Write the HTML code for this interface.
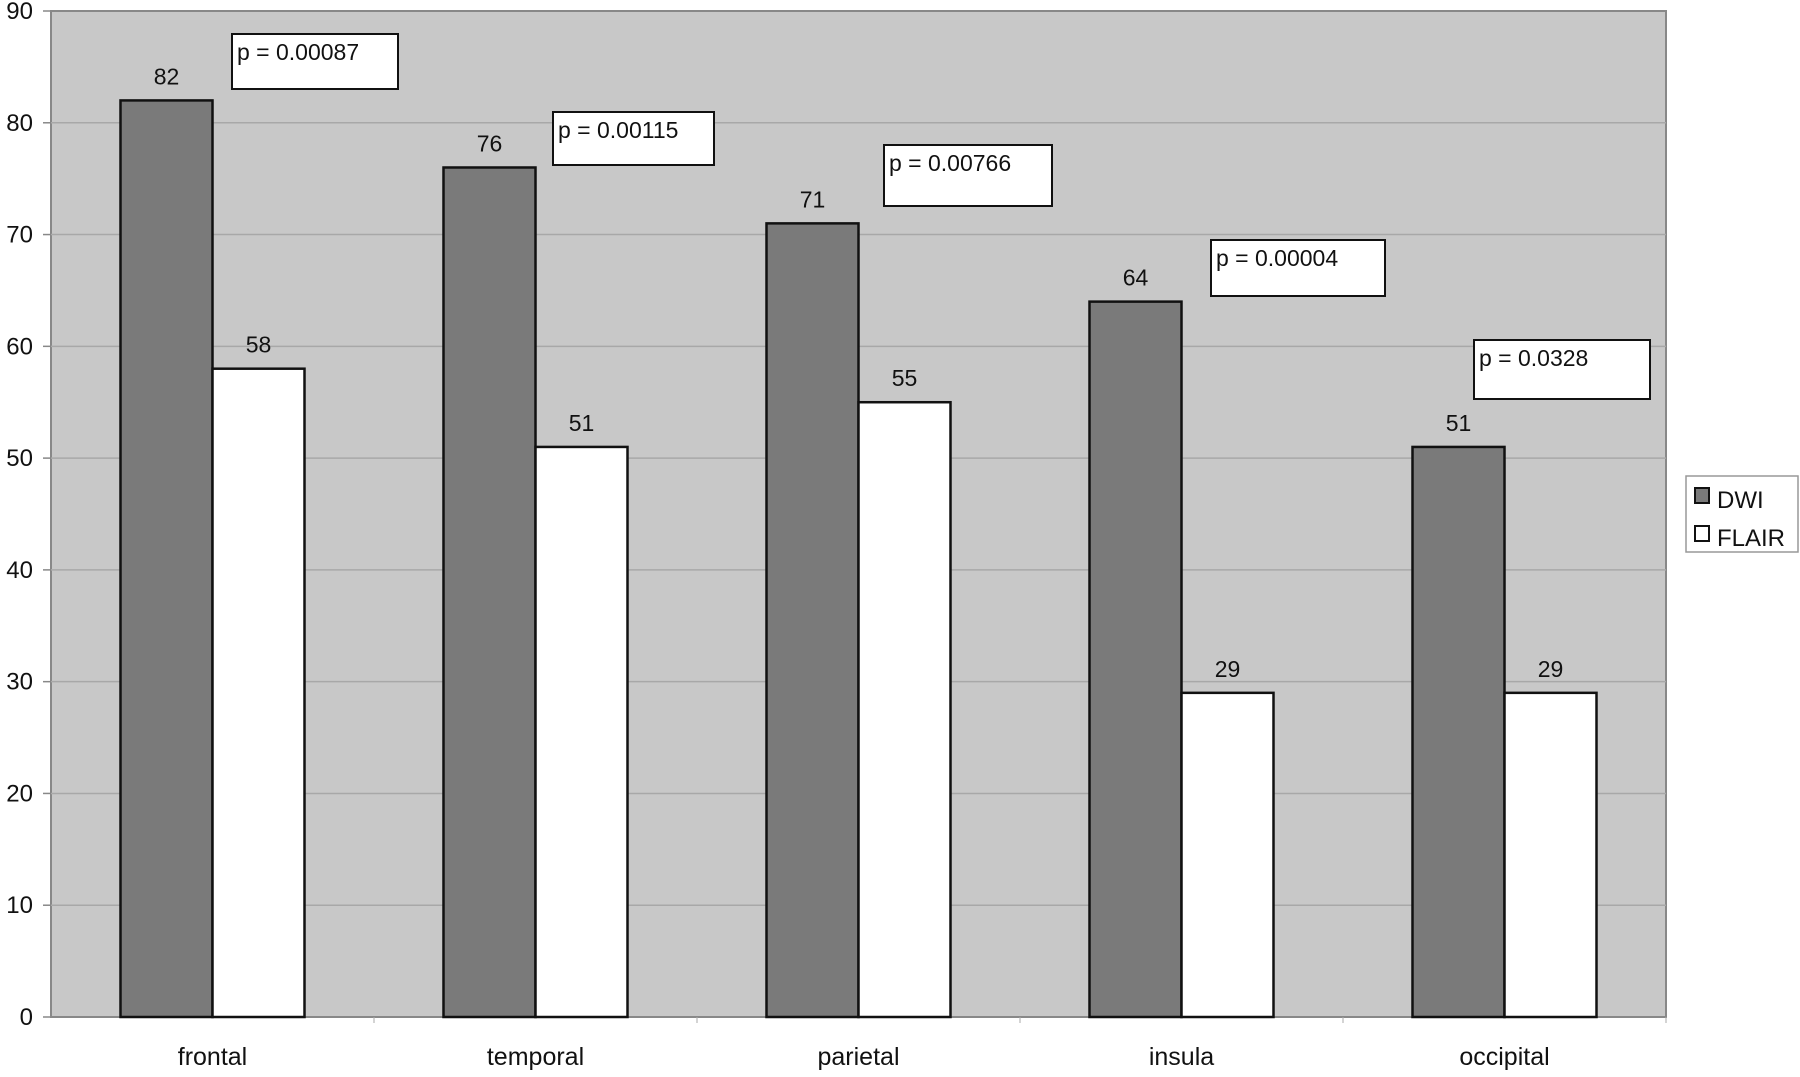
<!DOCTYPE html>
<html><head><meta charset="utf-8">
<style>
html,body{margin:0;padding:0;background:#fff;}
svg text{font-family:"Liberation Sans",Arial,sans-serif;fill:#111;}
</style></head>
<body>
<svg id="chart" width="1800" height="1072" xmlns="http://www.w3.org/2000/svg">
<rect x="51" y="11" width="1615" height="1006" fill="#c8c8c8" stroke="#888" stroke-width="2"/>
<g id="grid"></g>
<g id="bars"></g>
<g id="labels"></g>
<g id="pboxes"></g>
<g>
<rect x="1686" y="476" width="112" height="76" fill="#fff" stroke="#999" stroke-width="1.5"/>
<rect x="1695" y="488" width="14" height="15" fill="#7a7a7a" stroke="#111" stroke-width="2"/>
<text x="1717" y="508" font-size="24">DWI</text>
<rect x="1695" y="526" width="14" height="15" fill="#fff" stroke="#111" stroke-width="2"/>
<text x="1717" y="546" font-size="24">FLAIR</text>
</g>
</svg>
<script>
const categories = ["frontal","temporal","parietal","insula","occipital"];
const dwiValues = [82,76,71,64,51];
const flairValues = [58,51,55,29,29];
const yTicks = [0,10,20,30,40,50,60,70,80,90];
const pLabels = ["p = 0.00087","p = 0.00115","p = 0.00766","p = 0.00004","p = 0.0328"];

const NS="http://www.w3.org/2000/svg";
const L=51,R=1666,T=11,B=1017,YMAX=90;
const y=v=>B-(v/YMAX)*(B-T);
const gw=(R-L)/categories.length;
const bw=92;
const xDwi=i=>L+gw*i+gw/2-bw;
const xFlair=i=>L+gw*i+gw/2;
function mk(tag,attrs,parent){const e=document.createElementNS(NS,tag);for(const k in attrs)e.setAttribute(k,attrs[k]);parent.appendChild(e);return e;}
const grid=document.getElementById('grid'),bars=document.getElementById('bars'),labels=document.getElementById('labels'),pb=document.getElementById('pboxes');
yTicks.forEach(t=>{
  if(t>0&&t<YMAX){const g=mk('line',{x1:L,x2:R,y1:y(t),y2:y(t),stroke:'#a8a8a8','stroke-width':1.5},grid);
  
  }
  const tk=mk('line',{x1:L-8,x2:L,y1:y(t),y2:y(t),stroke:'#888','stroke-width':1.5},grid);
  
  
  const tx=mk('text',{x:L-18,y:y(t)+8,'font-size':24,'text-anchor':'end'},labels);
  tx.textContent=t;
  
  
});
categories.forEach((c,i)=>{
  const b1=mk('rect',{x:xDwi(i),y:y(dwiValues[i]),width:bw,height:B-y(dwiValues[i]),fill:'#7a7a7a',stroke:'#111','stroke-width':2.5},bars);
  
  
  const b2=mk('rect',{x:xFlair(i),y:y(flairValues[i]),width:bw,height:B-y(flairValues[i]),fill:'#fff',stroke:'#111','stroke-width':2.5},bars);
  
  
  const v1=mk('text',{x:xDwi(i)+bw/2,y:y(dwiValues[i])-16,'font-size':23,'text-anchor':'middle'},labels);
  v1.textContent=dwiValues[i];
  
  
  const v2=mk('text',{x:xFlair(i)+bw/2,y:y(flairValues[i])-16,'font-size':23,'text-anchor':'middle'},labels);
  v2.textContent=flairValues[i];
  
  
  const cl=mk('text',{x:L+gw*i+gw/2,y:1065,'font-size':25,'text-anchor':'middle'},labels);
  cl.textContent=c;
  
  
  const xt=mk('line',{x1:L+gw*(i+1),x2:L+gw*(i+1),y1:B,y2:B+6,stroke:'#aaa','stroke-width':1},grid);
  
  
});
const boxPos=[[232,34,166,55],[553,112,161,53],[884,145,168,61],[1211,240,174,56],[1474,340,176,59]];
pLabels.forEach((p,i)=>{
  const [bx,by,w,h]=boxPos[i];
  const r=mk('rect',{x:bx,y:by,width:w,height:h,fill:'#fff',stroke:'#111','stroke-width':2},pb);
  
  
  const t=mk('text',{x:bx+5,y:by+26,'font-size':23},pb);
  t.textContent=p;
  
  
});
</script>
</body></html>
